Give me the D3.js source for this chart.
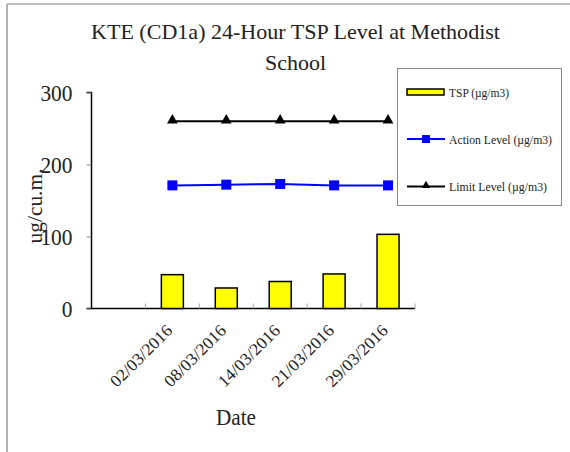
<!DOCTYPE html>
<html><head><meta charset="utf-8">
<script src="https://cdn.jsdelivr.net/npm/d3@7"></script>
<style>body{margin:0;background:#fff}svg{display:block}</style>
</head><body>
<script>
const categories = ["", "02/03/2016", "08/03/2016", "14/03/2016", "21/03/2016", "29/03/2016"];
const tspValues = [null, 47, 28.5, 37.5, 48, 103];
const actionValues = [null, 171, 172, 173, 171, 171];
const limitValues = [null, 260, 260, 260, 260, 260];
const yTicks = [0, 100, 200, 300];
const legendLabels = ["TSP (\u00b5g/m3)", "Action Level (\u00b5g/m3)", "Limit Level (\u00b5g/m3)"];
const legendWidths = [60, 103, 98];

const FONT = "'Liberation Serif', 'Times New Roman', serif";
const W = 570, H = 452;
const svg = d3.select("body").append("svg").attr("width", W).attr("height", H)
  .style("font-family", FONT);
svg.append("rect").attr("x", 0).attr("y", 0).attr("width", W).attr("height", H).attr("fill", "#fff");
svg.append("line").attr("x1", 7).attr("y1", 4).attr("x2", W).attr("y2", 4).attr("stroke", "#aaa").attr("stroke-width", 1.5);
svg.append("line").attr("x1", 7).attr("y1", 4).attr("x2", 7).attr("y2", H).attr("stroke", "#999").attr("stroke-width", 1.5);

const x0 = 91.5, x1 = 415, y0 = 308.5, y1 = 92.5;
const x = d3.scaleBand().domain(categories.map((c, i) => i)).range([x0, x1]).padding(0);
const y = d3.scaleLinear().domain([0, 300]).range([y0, y1]);

function txt(sel) { return sel.style("font-family", FONT).attr("fill", "#222"); }

// title
txt(svg.append("text")).attr("x", 295.5).attr("y", 39).attr("text-anchor", "middle").attr("font-size", 22)
  .attr("textLength", 409).attr("lengthAdjust", "spacingAndGlyphs")
  .text("KTE (CD1a) 24-Hour TSP Level at Methodist");
txt(svg.append("text")).attr("x", 295.5).attr("y", 70).attr("text-anchor", "middle").attr("font-size", 22)
  .attr("textLength", 61).attr("lengthAdjust", "spacingAndGlyphs").text("School");

// y axis
const yAxis = d3.axisLeft(y).tickValues(yTicks).tickSize(5).tickPadding(14).tickFormat(d3.format("d"));
const gy = svg.append("g").attr("transform", `translate(${x0},0)`).call(yAxis);
gy.select(".domain").attr("stroke", "#000").attr("stroke-width", 1.5).attr("d", `M-5,${y1}H0V${y0}H-5`);
gy.selectAll(".tick line").attr("stroke", "#888");
gy.selectAll(".tick text").attr("font-size", 23).style("font-family", FONT).attr("fill", "#222").attr("dy", "0.36em")
  .attr("textLength", d => String(d).length * 10.7).attr("lengthAdjust", "spacingAndGlyphs");

// x axis
const xAxis = d3.axisBottom(x).tickValues([]).tickSize(0);
const gx = svg.append("g").attr("transform", `translate(0,${y0})`).call(xAxis);
gx.select(".domain").attr("stroke", "#000").attr("stroke-width", 1.5).attr("d", `M${x0},0H${x1}`);
const bounds = categories.map((c, i) => x(i)).concat([x1]).slice(1);
gx.selectAll(".bt").data(bounds).enter().append("line").attr("class", "bt")
  .attr("x1", d => d).attr("x2", d => d).attr("y1", 0).attr("y2", -5).attr("stroke", "#aaa");

const bw = x.bandwidth();
txt(svg.selectAll(".xl").data(categories.slice(1)).enter().append("text").attr("class", "xl"))
  .attr("font-size", 17).attr("text-anchor", "end")
  .attr("textLength", 80).attr("lengthAdjust", "spacingAndGlyphs")
  .attr("transform", (d, i) => `translate(${x(i + 1) + bw / 2 + 1},${y0 + 23}) rotate(-45)`)
  .text(d => d);

// axis titles
txt(svg.append("text")).attr("transform", `translate(42,206) rotate(-90)`).attr("text-anchor", "middle")
  .attr("font-size", 21).attr("textLength", 75).attr("lengthAdjust", "spacingAndGlyphs").text("ug/cu.m.");
txt(svg.append("text")).attr("x", 236).attr("y", 425).attr("text-anchor", "middle").attr("font-size", 23)
  .attr("textLength", 40).attr("lengthAdjust", "spacingAndGlyphs").text("Date");

// bars
const barW = 22;
svg.selectAll(".bar").data(tspValues.map((v, i) => ({v, i})).filter(d => d.v != null)).enter().append("rect")
  .attr("x", d => x(d.i) + bw / 2 - barW / 2).attr("width", barW)
  .attr("y", d => y(d.v)).attr("height", d => y0 - y(d.v))
  .attr("fill", "#ffff00").attr("stroke", "#000").attr("stroke-width", 1.5);

const line = d3.line().defined(d => d.v != null).x(d => x(d.i) + bw / 2).y(d => y(d.v));
const act = actionValues.map((v, i) => ({v, i}));
const lim = limitValues.map((v, i) => ({v, i}));
svg.append("path").datum(act).attr("d", line).attr("fill", "none").attr("stroke", "#0000ff").attr("stroke-width", 2);
svg.append("path").datum(lim).attr("d", line).attr("fill", "none").attr("stroke", "#000").attr("stroke-width", 2);
svg.selectAll(".sq").data(act.filter(d => d.v != null)).enter().append("rect")
  .attr("x", d => x(d.i) + bw / 2 - 5).attr("y", d => y(d.v) - 5).attr("width", 10).attr("height", 10).attr("fill", "#0000ff");
const tri = d3.symbol().type(d3.symbolTriangle).size(50);
svg.selectAll(".tr").data(lim.filter(d => d.v != null)).enter().append("path")
  .attr("transform", d => `translate(${x(d.i) + bw / 2},${y(d.v) - 1})`).attr("d", tri).attr("fill", "#000");

// legend
const lg = svg.append("g");
lg.append("rect").attr("x", 397.5).attr("y", 68.5).attr("width", 164).attr("height", 137).attr("fill", "#fff").attr("stroke", "#888");
const ly = [92, 139, 186.5];
lg.append("rect").attr("x", 407).attr("y", ly[0] - 3).attr("width", 37).attr("height", 6).attr("fill", "#ffff00").attr("stroke", "#000").attr("stroke-width", 1.5);
lg.append("line").attr("x1", 407).attr("x2", 445).attr("y1", ly[1]).attr("y2", ly[1]).attr("stroke", "#0000ff").attr("stroke-width", 2);
lg.append("rect").attr("x", 422).attr("y", ly[1] - 4).attr("width", 8).attr("height", 8).attr("fill", "#0000ff");
lg.append("line").attr("x1", 407).attr("x2", 445).attr("y1", ly[2]).attr("y2", ly[2]).attr("stroke", "#000").attr("stroke-width", 2);
lg.append("path").attr("transform", `translate(426,${ly[2] - 1})`).attr("d", d3.symbol().type(d3.symbolTriangle).size(30)).attr("fill", "#000");
txt(lg.selectAll(".lt").data(legendLabels).enter().append("text")).attr("x", 449).attr("y", (d, i) => ly[i] + 4.5)
  .attr("font-size", 12).attr("textLength", (d, i) => legendWidths[i]).attr("lengthAdjust", "spacingAndGlyphs").text(d => d);
</script>
</body></html>
